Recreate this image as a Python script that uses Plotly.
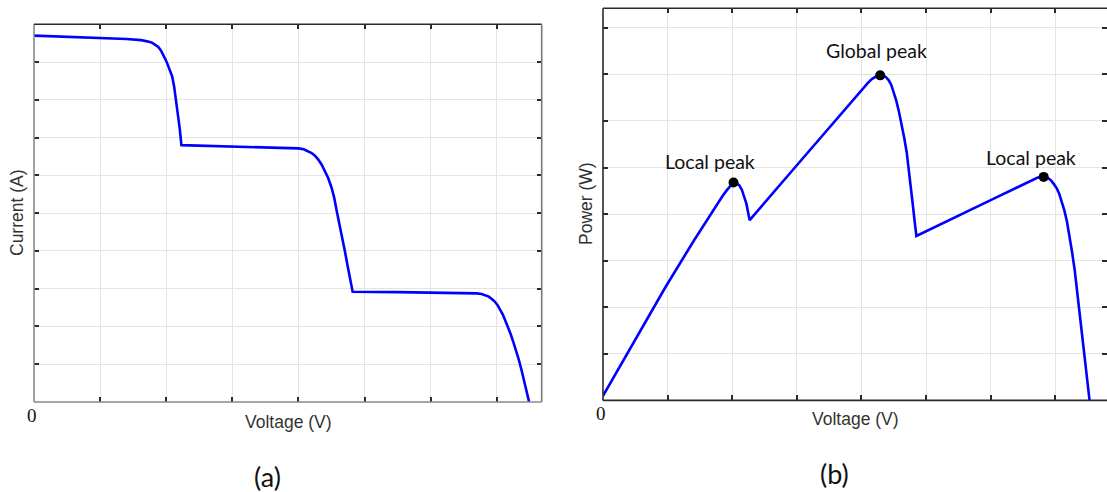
import plotly.graph_objects as go

W, H = 1107, 492

# ---- (a) I-V curve ----
iv_voltage = [0.00, 0.50, 1.00, 1.40, 1.62, 1.68, 1.74, 1.79, 1.84, 1.88, 1.92, 1.96, 2.00, 2.03, 2.06, 2.09, 2.12, 2.15, 2.18, 2.205, 2.23,
              3.00, 3.60, 3.90, 4.00, 4.08, 4.14, 4.20, 4.25, 4.30, 4.35, 4.40, 4.45, 4.50, 4.54, 4.58, 4.62, 4.66, 4.70, 4.74, 4.78, 4.82,
              5.50, 6.30, 6.60, 6.70, 6.77, 6.83, 6.88, 6.93, 6.97, 7.01, 7.05, 7.09, 7.13, 7.17, 7.21, 7.25, 7.29, 7.33, 7.37, 7.41, 7.45, 7.49]
iv_current = [9.70, 9.67, 9.64, 9.61, 9.58, 9.565, 9.54, 9.51, 9.46, 9.40, 9.31, 9.18, 9.03, 8.90, 8.77, 8.62, 8.35, 8.00, 7.62, 7.23, 6.80,
              6.77, 6.745, 6.73, 6.715, 6.69, 6.65, 6.59, 6.52, 6.42, 6.29, 6.13, 5.93, 5.68, 5.42, 5.05, 4.72, 4.40, 4.02, 3.64, 3.28, 2.92,
              2.91, 2.895, 2.885, 2.875, 2.86, 2.83, 2.79, 2.72, 2.66, 2.57, 2.46, 2.32, 2.15, 1.99, 1.80, 1.59, 1.38, 1.14, 0.88, 0.60, 0.31, 0.00]

# ---- (b) P-V curve ----
pv_voltage = [0.00, 0.97, 1.41, 1.55, 1.67, 1.77, 1.85, 1.92, 1.97, 2.02, 2.06, 2.11, 2.15, 2.19, 2.22, 2.24, 2.27,
              3.00, 4.00, 4.10, 4.16, 4.21, 4.25, 4.29, 4.34, 4.38, 4.42, 4.46, 4.50, 4.54, 4.58, 4.62, 4.66, 4.70, 4.73, 4.76, 4.79, 4.82, 4.85,
              6.00, 6.42, 6.55, 6.64, 6.72, 6.78, 6.82, 6.88, 6.93, 6.97, 7.02, 7.06, 7.10, 7.14, 7.18, 7.22, 7.26, 7.30, 7.37, 7.44, 7.53]
pv_power = [0.10, 2.44, 3.44, 3.75, 4.01, 4.22, 4.39, 4.52, 4.61, 4.68, 4.67, 4.62, 4.52, 4.37, 4.22, 4.08, 3.87,
            5.05, 6.67, 6.82, 6.90, 6.95, 6.975, 6.98, 6.97, 6.94, 6.88, 6.78, 6.62, 6.43, 6.20, 5.95, 5.65, 5.33, 5.00, 4.64, 4.26, 3.88, 3.53,
            4.30, 4.58, 4.67, 4.74, 4.78, 4.80, 4.80, 4.78, 4.73, 4.66, 4.56, 4.44, 4.27, 4.08, 3.84, 3.55, 3.18, 2.80, 1.98, 1.08, 0.00]

peak_labels = ["Local peak", "Global peak", "Local peak"]
peak_voltage = [2.02, 4.29, 6.82]
peak_power = [4.68, 6.98, 4.80]
peak_shift_x = [-24, -4, -13]
peak_shift_y = [21, 25, 19]

x_ticks_a = [1, 2, 3, 4, 5, 6, 7]
y_ticks_a = [1, 2, 3, 4, 5, 6, 7, 8, 9]
x_ticks_b = [1, 2, 3, 4, 5, 6, 7]
y_ticks_b = [1, 2, 3, 4, 5, 6, 7, 8]

BLUE = "#0000FF"
GRID = "#e4e4e4"
DARK = "#2a2a2a"
GRAY = "#8a8a8a"
LABEL_FONT = "Liberation Sans, Arial, sans-serif"
CAL_FONT = "Lato, Open Sans, sans-serif"
SERIF = "Liberation Serif, Times New Roman, serif"

fig = go.Figure()
fig.add_trace(go.Scatter(x=iv_voltage, y=iv_current, mode="lines",
                         line=dict(color=BLUE, width=2.6), xaxis="x", yaxis="y"))
fig.add_trace(go.Scatter(x=pv_voltage, y=pv_power, mode="lines",
                         line=dict(color=BLUE, width=2.6), xaxis="x2", yaxis="y2"))
fig.add_trace(go.Scatter(x=peak_voltage, y=peak_power, mode="markers",
                         marker=dict(color="black", size=10), xaxis="x2", yaxis="y2"))

def px_x(p):
    return p / W

def px_y(p):
    return 1 - p / H

axis_common = dict(ticks="inside", ticklen=5, tickwidth=1.5, tickcolor=DARK,
                   showgrid=True, gridcolor=GRID, gridwidth=1.3, zeroline=False,
                   showticklabels=False, showline=False, mirror="ticks")

fig.update_layout(
    width=W, height=H, margin=dict(l=0, r=0, t=0, b=0),
    paper_bgcolor="white", plot_bgcolor="white", showlegend=False,
    xaxis=dict(domain=[px_x(34), px_x(541.7)], range=[0, 7.68], tickvals=x_ticks_a,
               anchor="y", **axis_common),
    yaxis=dict(domain=[px_y(402), px_y(24.3)], range=[0, 10], tickvals=y_ticks_a,
               anchor="x", **axis_common),
    xaxis2=dict(domain=[px_x(603), 1.0], range=[0, 7.80], tickvals=x_ticks_b,
                anchor="y2", **axis_common),
    yaxis2=dict(domain=[px_y(400.4), px_y(8.3)], range=[0, 8.42], tickvals=y_ticks_b,
                anchor="x2", **axis_common),
)

shapes = []
def edge(xr, yr, x0, y0, x1, y1, color):
    shapes.append(dict(type="line", xref=xr, yref=yr, x0=x0, y0=y0, x1=x1, y1=y1,
                       line=dict(color=color, width=1.6), layer="above"))

edge("x domain", "y domain", 0, 0, 1, 0, GRAY)
edge("x domain", "y domain", 0, 0, 0, 1, GRAY)
edge("x domain", "y domain", 0, 1, 1, 1, DARK)
edge("x domain", "y domain", 1, 0, 1, 1, "#7a7a7a")
edge("x2 domain", "y2 domain", 0, 0, 1, 0, DARK)
edge("x2 domain", "y2 domain", 0, 0, 0, 1, DARK)
edge("x2 domain", "y2 domain", 0, 1, 1, 1, DARK)
fig.update_layout(shapes=shapes)

ann = []
for lab, xv, yv, sx, sy in zip(peak_labels, peak_voltage, peak_power, peak_shift_x, peak_shift_y):
    ann.append(dict(text=lab, x=xv, y=yv, xref="x2", yref="y2", showarrow=False,
                    xanchor="center", yanchor="middle",
                    xshift=sx, yshift=sy, font=dict(family=CAL_FONT, size=19.5, color="#111111")))

def label(text, x, y, xref="paper", size=17.5, family=LABEL_FONT, color="#333333", angle=0, xshift=0):
    return dict(text=text, x=x, y=y, xref=xref, yref="paper", showarrow=False,
                xanchor="center", yanchor="middle", textangle=angle, xshift=xshift,
                font=dict(family=family, size=size, color=color))

ann += [
    label("Voltage (V)", px_x(288.3), px_y(421.7)),
    label("Voltage (V)", px_x(855.5), px_y(419)),
    label("Current (A)", px_x(17), px_y(213), angle=-90),
    label("Power (W)", px_x(586), px_y(204), angle=-90),
    label("0", 0, px_y(415), xref="x", size=19, family=SERIF, color="#111111", xshift=-2),
    label("0", 0, px_y(413.3), xref="x2", size=19, family=SERIF, color="#111111", xshift=-2),
    label("(a)", px_x(267.7), px_y(476), size=27, family=CAL_FONT, color="#111111"),
    label("(b)", px_x(834), px_y(473), size=27, family=CAL_FONT, color="#111111"),
]
fig.update_layout(annotations=ann)

fig.write_html("out.html")
